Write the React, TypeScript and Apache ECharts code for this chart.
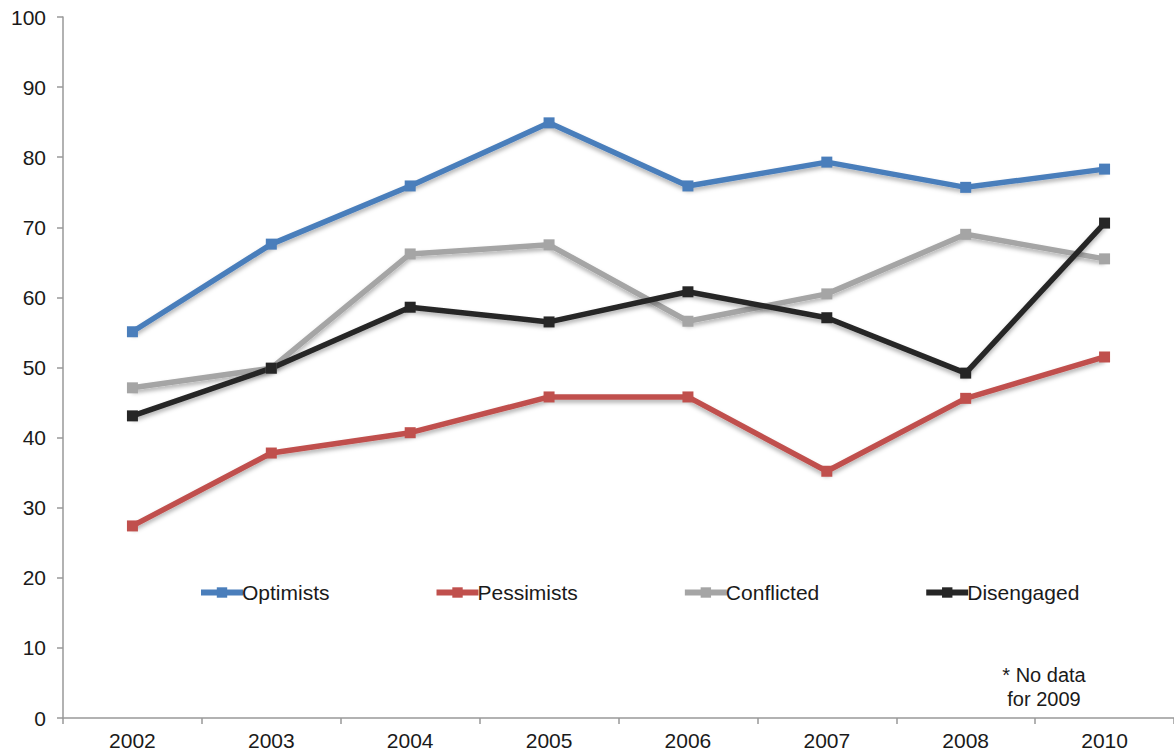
import React, { useEffect, useRef } from "react";
import * as echarts from "echarts";

const years = ["2002", "2003", "2004", "2005", "2006", "2007", "2008", "2010"];
const optimists = [55.1, 67.6, 75.9, 84.9, 75.9, 79.3, 75.7, 78.3];
const pessimists = [27.4, 37.8, 40.7, 45.8, 45.8, 35.2, 45.6, 51.5];
const conflicted = [47.1, 49.9, 66.2, 67.5, 56.6, 60.5, 69.0, 65.5];
const disengaged = [43.1, 49.9, 58.6, 56.5, 60.8, 57.1, 49.2, 70.6];
const yTicks = [0, 10, 20, 30, 40, 50, 60, 70, 80, 90, 100];
const note = "* No data\nfor 2009";

const seriesDefs = [
  { name: "Optimists", data: optimists, color: "#4A7EBB" },
  { name: "Pessimists", data: pessimists, color: "#C0504D" },
  { name: "Conflicted", data: conflicted, color: "#A5A5A5" },
  { name: "Disengaged", data: disengaged, color: "#262626" },
];

export default function App() {
  const ref = useRef<HTMLDivElement>(null);
  useEffect(() => {
    if (!ref.current) return;
    const chart = echarts.init(ref.current, undefined, { renderer: "svg" });
    const font = "Liberation Sans, Arial, sans-serif";
    chart.setOption({
      animation: false,
      backgroundColor: "#ffffff",
      textStyle: { fontFamily: font },
      grid: { left: 63, top: 17, width: 1128, height: 701 },
      legend: {
        left: 193,
        top: 577,
        itemGap: 104,
        itemWidth: 42,
        itemHeight: 13,
        lineStyle: { width: 6 },
        textStyle: { fontSize: 21, color: "#1a1a1a", fontFamily: font, padding: [0, 0, 0, -6] },
        data: seriesDefs.map((s) => s.name),
      },
      xAxis: {
        type: "category",
        data: years,
        boundaryGap: true,
        axisLine: { lineStyle: { color: "#999999", width: 1.5 } },
        axisTick: { show: true, length: 6, inside: false, lineStyle: { color: "#999999", width: 1.5 } },
        axisLabel: { fontSize: 21, color: "#1a1a1a", margin: 12, fontFamily: font },
        splitLine: { show: false },
      },
      yAxis: {
        type: "value",
        min: yTicks[0],
        max: yTicks[yTicks.length - 1],
        interval: 10,
        axisLine: { show: true, lineStyle: { color: "#999999", width: 1.5 } },
        axisTick: { show: true, length: 6, lineStyle: { color: "#999999", width: 1.5 } },
        axisLabel: { fontSize: 21, color: "#1a1a1a", margin: 17, fontFamily: font },
        splitLine: { show: false },
      },
      graphic: [
        {
          type: "text",
          x: 1044,
          y: 663,
          style: {
            text: note,
            fontSize: 20,
            fontFamily: font,
            fill: "#1a1a1a",
            align: "center",
            verticalAlign: "top",
            lineHeight: 24,
          },
        },
      ],
      series: seriesDefs.map((s) => ({
        name: s.name,
        type: "line",
        data: s.data,
        symbol: "rect",
        symbolSize: 11,
        showSymbol: true,
        itemStyle: { color: s.color },
        lineStyle: {
          color: s.color,
          width: 5.5,
          shadowColor: "rgba(0,0,0,0.3)",
          shadowBlur: 4,
          shadowOffsetY: 3,
        },
      })),
    });
    return () => chart.dispose();
  }, []);
  return (
    <div style={{ position: "absolute", left: 0, top: 0, width: 1174, height: 756, overflow: "hidden" }}>
      <div ref={ref} style={{ width: 1174, height: 756 }} />
    </div>
  );
}
